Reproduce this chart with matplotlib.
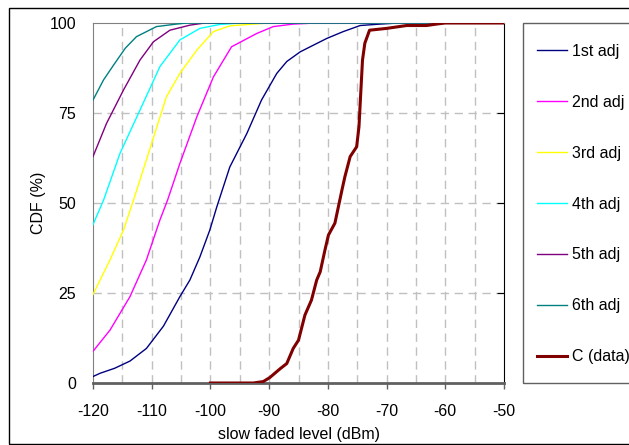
import matplotlib
matplotlib.use('Agg')
import matplotlib.pyplot as plt
from matplotlib.patches import Rectangle

plt.rcParams['font.family'] = ['Liberation Sans', 'DejaVu Sans']
plt.rcParams['font.size'] = 11.5
plt.rcParams['axes.unicode_minus'] = False

# curves (x in dBm, y in %)
x_1st = [-120, -118.8, -116.3, -113.7, -110.9, -108, -105.2, -103.5, -101.8, -100.1, -98.9,
         -96.7, -93.8, -91.3, -88.7, -87, -84.7, -80.2, -77.4, -74.5, -71.1, -68, -50]
y_1st = [1.8, 2.7, 4.1, 6.1, 9.6, 15.8, 24, 28.6, 35, 42.5, 49,
         60, 69.3, 78.6, 86, 89.3, 92, 95.7, 97.6, 99.3, 99.7, 100, 100]

x_2nd = [-120, -117.1, -113.7, -110.9, -108.6, -107.3, -105.2, -102.3, -99.5, -96.4, -92.1,
         -89.3, -85.9, -82, -50]
y_2nd = [8.8, 14.7, 24, 34.2, 45.3, 50.8, 61, 74, 85, 93.4, 97.1,
         99, 99.7, 100, 100]

x_3rd = [-120, -117.1, -114.8, -113.1, -110.9, -107.5, -105.2, -102.3, -99.5, -96.7, -92.7, -90, -50]
y_3rd = [24.6, 34.2, 42.5, 50.8, 62, 79.5, 86, 92.5, 97.6, 99.2, 99.7, 100, 100]

x_4th = [-120, -118.2, -115.4, -112, -108.6, -105.2, -101.8, -98.4, -95, -50]
y_4th = [44, 50.8, 63.8, 75.8, 87.9, 95.3, 98.5, 99.6, 100, 100]

x_5th = [-120, -117.7, -114.8, -112, -109.7, -106.9, -103.5, -101, -50]
y_5th = [62.9, 72.1, 81.4, 89.7, 94.8, 98, 99.4, 100, 100]

x_6th = [-120, -118.2, -116.5, -114.5, -112.6, -109.2, -105.8, -104, -50]
y_6th = [78.6, 84.2, 88.3, 93, 96.2, 99, 99.7, 100, 100]

x_c = [-100, -92.7, -91, -89.9, -88.1, -87, -85.9, -85, -83.9, -82.8, -81.9, -81.3,
       -80.5, -79.9, -78.8, -78.2, -77.6, -77.1, -76.2, -75.1, -74.7, -74.4, -74.1,
       -73.7, -72.9, -70, -66.6, -63.2, -61.5, -60, -50]
y_c = [0, 0, 0.4, 1.5, 4, 5.4, 9.6, 11.9, 18.9, 23, 28.6, 30.9,
       36.9, 41.1, 44.4, 49, 53.6, 57.3, 62.9, 65.6, 71.2, 80.5, 89.7,
       94.4, 98, 98.5, 99.3, 99.3, 99.7, 100, 100]

series = [
    ('1st adj', x_1st, y_1st, '#000080', 1.0),
    ('2nd adj', x_2nd, y_2nd, '#FF00FF', 1.0),
    ('3rd adj', x_3rd, y_3rd, '#FFFF00', 1.0),
    ('4th adj', x_4th, y_4th, '#00FFFF', 1.0),
    ('5th adj', x_5th, y_5th, '#800080', 1.0),
    ('6th adj', x_6th, y_6th, '#008080', 1.0),
    ('C (data)', x_c, y_c, '#800000', 2.2),
]

W, H = 629, 445
fig = plt.figure(figsize=(W / 100, H / 100), dpi=100)

# outer chart border
fig.add_artist(Rectangle((9 / W, 1 - 444 / H), 700 / W, 436 / H, transform=fig.transFigure,
                         fill=False, edgecolor='black', lw=1.0))

ax = fig.add_axes([93 / W, 1 - 383 / H, 411 / W, 360 / H])

handles = []
for name, xs, ys, col, lw in series:
    ln, = ax.plot(xs, ys, color=col, lw=lw, label=name, zorder=3)
    handles.append(ln)

ax.set_xlim(-120, -50)
ax.set_ylim(0, 100)
ax.set_xticks(range(-120, -49, 10))
ax.set_xticks(range(-115, -50, 10), minor=True)
ax.set_yticks([0, 25, 50, 75, 100])

for v in range(-115, -50, 5):
    ax.axvline(v, color='#c0c0c0', lw=1.0, ls=(0, (6, 4)), zorder=1)
for v in [25, 50, 75]:
    ax.axhline(v, color='#c0c0c0', lw=1.0, ls=(0, (6, 4)), zorder=1)

ax.tick_params(axis='x', which='major', direction='out', length=4, width=1, color='#606060', pad=11)
ax.tick_params(axis='x', which='minor', length=0)
ax.tick_params(axis='y', length=0, pad=12)

ax.spines['left'].set_color('#808080')
ax.spines['top'].set_color('#808080')
ax.spines['bottom'].set_color('#606060')
ax.spines['bottom'].set_linewidth(2.0)
ax.spines['right'].set_color('black')

# small inward ticks on the right edge
ax2 = ax.twinx()
ax2.set_ylim(0, 100)
ax2.set_yticks([25, 50, 75])
ax2.set_yticklabels([])
ax2.tick_params(axis='y', direction='in', length=5, color='black')
for s in ax2.spines.values():
    s.set_visible(False)

ax.set_xlabel('slow faded level (dBm)', labelpad=6)
ax.set_ylabel('CDF (%)', labelpad=3)

# legend box
fig.add_artist(Rectangle((523 / W, 1 - 383 / H), 200 / W, 360 / H, transform=fig.transFigure,
                         fill=False, edgecolor='#606060', lw=1.0))
fig.legend(handles=handles, loc='center left', bbox_to_anchor=(537 / W, 1 - 204 / H),
           frameon=False, borderpad=0, borderaxespad=0, handlelength=1.85,
           handletextpad=0.35, labelspacing=2.25)

fig.savefig('out.png', dpi=100)
